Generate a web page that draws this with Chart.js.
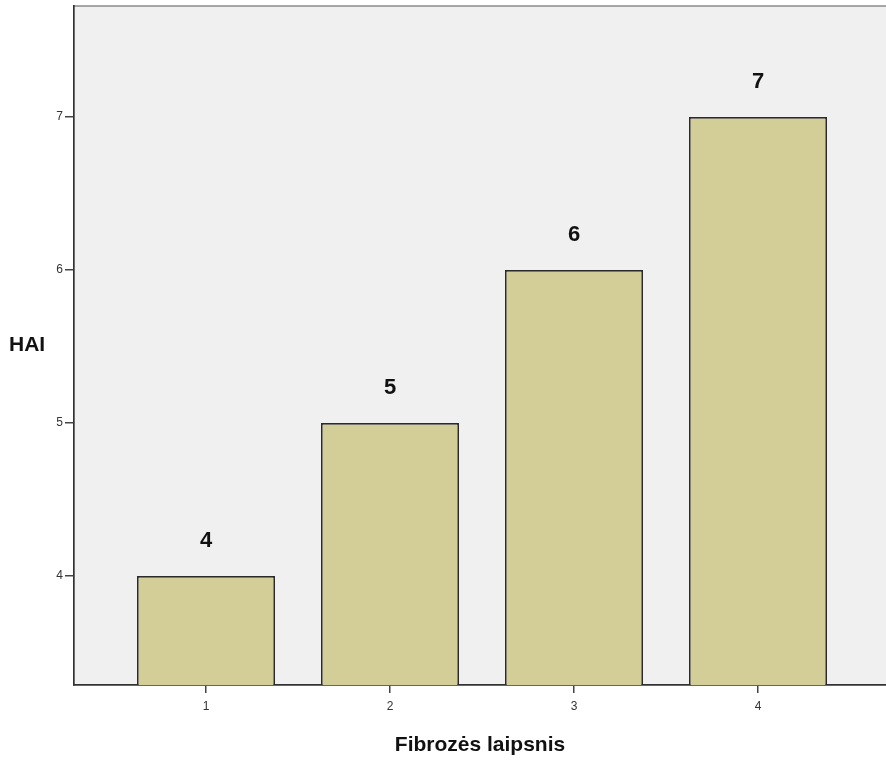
<!DOCTYPE html>
<html>
<head>
<meta charset="utf-8">
<script src="https://cdn.jsdelivr.net/npm/chart.js@4"></script>
<style>
  html,body{margin:0;padding:0;background:#fff;overflow:hidden;}
  #wrap{width:890px;height:760px;}
</style>
</head>
<body>
<div id="wrap"><canvas id="c" width="890" height="760"></canvas></div>
<script>
// ===== data =====
const categories = [1, 2, 3, 4];
const haiValues  = [4, 5, 6, 7];
const yTicks     = [4, 5, 6, 7];
const xTitle = 'Fibrozės laipsnis';
const yTitle = 'HAI';

const FONT = '"Liberation Sans", Arial, sans-serif';

// chart area background + frame, titles and value labels
const decor = {
  id:'decor',
  beforeDraw(chart){
    const {ctx, chartArea:a} = chart;
    ctx.save();
    ctx.fillStyle = '#f0f0f0';
    ctx.fillRect(a.left, a.top, a.right-a.left, a.bottom-a.top);
    ctx.strokeStyle = '#8a8a8a';
    ctx.lineWidth = 1.5;
    ctx.beginPath();
    ctx.moveTo(a.left, a.top); ctx.lineTo(a.right, a.top); ctx.lineTo(a.right, a.bottom);
    ctx.stroke();
    ctx.restore();
  },
  afterDraw(chart){
    const {ctx, chartArea:a} = chart;
    ctx.save();
    ctx.fillStyle = '#111';
    ctx.font = 'bold 21px '+FONT;
    ctx.textBaseline = 'middle';
    ctx.textAlign = 'left';
    ctx.fillText(yTitle, 9, (a.top+a.bottom)/2);
    ctx.textAlign = 'center';
    ctx.fillText(xTitle, (a.left+886)/2, 745);
    // value labels
    ctx.font = 'bold 22px '+FONT;
    chart.getDatasetMeta(0).data.forEach((bar,i)=>{
      ctx.fillText(String(haiValues[i]), bar.x, bar.y-35);
    });
    ctx.restore();
  }
};

new Chart(document.getElementById('c').getContext('2d'),{
  type:'bar',
  data:{
    datasets:[{
      data: categories.map((c,i)=>({x:c, y:haiValues[i]})),
      backgroundColor:'#d3ce97',
      borderColor:'#2a2a2a',
      borderWidth:1.7,
      borderSkipped:false,
      barPercentage:0.75,
      categoryPercentage:1
    }]
  },
  options:{
    responsive:false,
    animation:false,
    layout:{padding:{top:6,left:0,right:0,bottom:0}},
    plugins:{legend:{display:false},tooltip:{enabled:false}},
    scales:{
      x:{
        type:'linear', min:0.2826, max:4.7174, offset:false,
        afterBuildTicks:s=>{ s.ticks = categories.map(v=>({value:v})); },
        afterFit:s=>{ s.height = 75; },
        grid:{offset:false, drawOnChartArea:false, drawTicks:true, tickLength:8, color:'#444', lineWidth:1.5},
        border:{display:true, color:'#333', width:1.7},
        ticks:{color:'#333', font:{family:FONT, size:12}, padding:6, maxRotation:0}
      },
      y:{
        type:'linear', min:3.2876, max:7.7255,
        afterBuildTicks:s=>{ s.ticks = yTicks.map(v=>({value:v})); },
        afterFit:s=>{ s.width = 74; s.paddingTop = 0; s.paddingBottom = 0; },
        grid:{drawOnChartArea:false, drawTicks:true, tickLength:9, color:'#444', lineWidth:1.5},
        border:{display:true, color:'#333', width:1.7},
        ticks:{color:'#333', font:{family:FONT, size:12}, padding:2}
      }
    }
  },
  plugins:[decor]
});
</script>
</body>
</html>
